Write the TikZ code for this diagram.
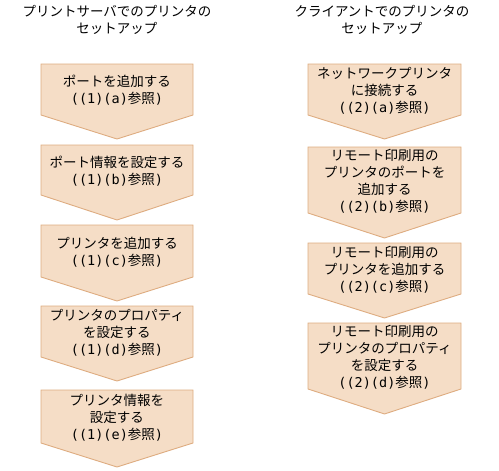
\documentclass[tikz,border=0pt]{standalone}
\usepackage{fontspec}
\setmainfont{Noto Sans CJK JP}
\newfontfamily\hwfont{DejaVu Sans Mono}[Scale=1.0]
\definecolor{boxfill}{RGB}{245,221,198}
\definecolor{boxline}{RGB}{222,172,128}
\tikzset{
  stepshape/.style={draw=boxline, fill=boxfill, line width=0.9pt, line join=miter},
  steptext/.style={align=center, font=\fontsize{13.5}{17}\selectfont, inner sep=0pt},
  titletext/.style={align=center, font=\fontsize{13.5}{16.5}\selectfont, inner sep=0pt}
}
\newcommand{\seeref}[1]{{\hwfont(#1}参照{\hwfont)}}
% name, x1, x2, top, side bottom, tip, text
\newcommand{\flowbox}[7]{%
  \draw[stepshape] (#2,#4) -- (#3,#4) -- (#3,#5) -- ({(#2+#3)/2},#6) -- (#2,#5) -- cycle;
  \node[steptext] (#1) at ({(#2+#3)/2},{(#4+#5)/2+1}) {#7};
}
\begin{document}
\begin{tikzpicture}[x=1pt,y=-1pt]
\useasboundingbox (0,0) rectangle (499,471);
\node[titletext] (ltitle) at (117,20) {プリントサーバでのプリンタの\\セットアップ};
\node[titletext] (rtitle) at (382,20) {クライアントでのプリンタの\\セットアップ};
% left column
\flowbox{l1}{41}{193}{64}{115}{139}{ポートを追加する\\\seeref{(1)(a)}}
\flowbox{l2}{41}{193}{145}{195}{220}{ポート情報を設定する\\\seeref{(1)(b)}}
\flowbox{l3}{41}{193}{225}{277}{301}{プリンタを追加する\\\seeref{(1)(c)}}
\flowbox{l4}{41}{193}{306}{357}{381}{プリンタのプロパティ\\を設定する\\\seeref{(1)(d)}}
\flowbox{l5}{41}{193}{390}{443}{467}{プリンタ情報を\\設定する\\\seeref{(1)(e)}}
% right column
\flowbox{r1}{308}{461}{64}{115}{139}{ネットワークプリンタ\\に接続する\\\seeref{(2)(a)}}
\flowbox{r2}{308}{461}{147}{213}{238}{リモート印刷用の\\プリンタのポートを\\追加する\\\seeref{(2)(b)}}
\flowbox{r3}{308}{461}{243}{294}{318}{リモート印刷用の\\プリンタを追加する\\\seeref{(2)(c)}}
\flowbox{r4}{308}{461}{323}{389}{414}{リモート印刷用の\\プリンタのプロパティ\\を設定する\\\seeref{(2)(d)}}
\end{tikzpicture}
\end{document}
